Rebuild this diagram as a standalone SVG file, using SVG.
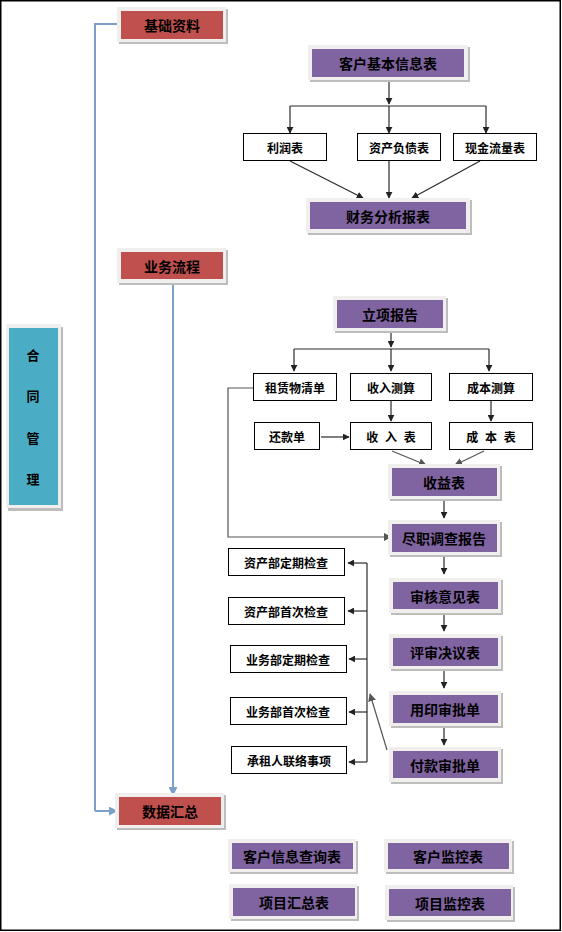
<svg xmlns="http://www.w3.org/2000/svg" width="562" height="932" viewBox="0 0 562 932">
<defs>
<style>
.t{font-family:"Noto Sans CJK SC","Liberation Sans",sans-serif;font-weight:bold;fill:#000;text-anchor:middle;dominant-baseline:central}
.big{font-size:14px}
.sm{font-size:12px}
.sp{letter-spacing:2px}
.fr{fill:#F1EEEE}
.sh{fill:#BDBDBD}
.red{fill:#C0504D}
.pur{fill:#8064A2}
.teal{fill:#4BACC6}
.wb{fill:#fff;stroke:#000;stroke-width:1}
.ln{fill:none;stroke:#2B2B2B;stroke-width:1.2}
.lg{fill:none;stroke:#555;stroke-width:1.2}
.bl{fill:none;stroke:#7BA0C8;stroke-width:2}
</style>
<marker id="ar" viewBox="0 0 10 10" refX="9" refY="5" markerWidth="7" markerHeight="7" markerUnits="userSpaceOnUse" orient="auto"><path d="M0,0L10,5L0,10z" fill="#222"/></marker>
<marker id="ag" viewBox="0 0 10 10" refX="9" refY="5" markerWidth="8" markerHeight="8" markerUnits="userSpaceOnUse" orient="auto"><path d="M0,0L10,5L0,10z" fill="#555"/></marker>
<marker id="ab" viewBox="0 0 10 10" refX="9" refY="5" markerWidth="9" markerHeight="9" markerUnits="userSpaceOnUse" orient="auto"><path d="M0,0L10,5L0,10z" fill="#7BA0C8"/></marker>
</defs>
<rect x="0.75" y="0.75" width="559.5" height="929.5" fill="#fff" stroke="#000" stroke-width="1.5"/>

<g id="connectors">
<path class="bl" d="M121,24H95V811" />
<path class="bl" d="M95,811H117" marker-end="url(#ab)"/>
<path class="bl" d="M173,280V795" marker-end="url(#ab)"/>
<path class="ln" d="M389,78V104" marker-end="url(#ar)"/>
<path class="ln" d="M290,106H486"/>
<path class="ln" d="M290,106V133" marker-end="url(#ar)"/>
<path class="ln" d="M389,106V133" marker-end="url(#ar)"/>
<path class="ln" d="M486,106V133" marker-end="url(#ar)"/>
<path class="ln" d="M290,161L363,198" marker-end="url(#ar)"/>
<path class="ln" d="M389,161V198" marker-end="url(#ar)"/>
<path class="ln" d="M480,161L412,198" marker-end="url(#ar)"/>
<path class="ln" d="M391,329V347" marker-end="url(#ar)"/>
<path class="ln" d="M294,349H489"/>
<path class="ln" d="M294,349V371" marker-end="url(#ar)"/>
<path class="ln" d="M391,349V371" marker-end="url(#ar)"/>
<path class="ln" d="M489,349V371" marker-end="url(#ar)"/>
<path class="ln" d="M391,401V421" marker-end="url(#ar)"/>
<path class="ln" d="M491,401V421" marker-end="url(#ar)"/>
<path class="ln" d="M321,437H349" marker-end="url(#ar)"/>
<path class="lg" d="M392,451L426,465" marker-end="url(#ag)"/>
<path class="lg" d="M484,451L455,465" marker-end="url(#ag)"/>
<path class="ln" d="M444,497V518" marker-end="url(#ar)"/>
<path class="lg" d="M253,388H228V537H391" marker-end="url(#ag)"/>
<path class="ln" d="M444,553V574" marker-end="url(#ar)"/>
<path class="ln" d="M444,610V631" marker-end="url(#ar)"/>
<path class="ln" d="M444,667V688" marker-end="url(#ar)"/>
<path class="ln" d="M444,724V745" marker-end="url(#ar)"/>
<path class="ln" d="M367,563V762"/>
<path class="ln" d="M367,563H348" marker-end="url(#ar)"/>
<path class="ln" d="M367,611H348" marker-end="url(#ar)"/>
<path class="ln" d="M367,659H349" marker-end="url(#ar)"/>
<path class="ln" d="M367,712H349" marker-end="url(#ar)"/>
<path class="ln" d="M367,762H349" marker-end="url(#ar)"/>
<path class="lg" d="M387,750L370,694" marker-end="url(#ag)"/>
</g>

<g id="n-hetong">
<rect class="sh" x="8" y="327" width="55" height="184"/>
<rect class="fr" x="6" y="324" width="55" height="184"/>
<rect class="teal" x="9" y="328" width="49" height="177"/>
<text class="t" style="font-size:13px" x="33" y="354">合</text>
<text class="t" style="font-size:13px" x="33" y="395">同</text>
<text class="t" style="font-size:13px" x="33" y="437">管</text>
<text class="t" style="font-size:13px" x="33" y="478">理</text>
</g>

<g id="n-jichu">
<rect class="sh" x="119" y="9" width="109" height="35"/>
<rect class="fr" x="117" y="7" width="109" height="35"/>
<rect class="red" x="121" y="11" width="102" height="28"/>
<text class="t big" x="172" y="25">基础资料</text>
</g>
<g id="n-yewu">
<rect class="sh" x="119" y="250" width="109" height="35"/>
<rect class="fr" x="117" y="248" width="109" height="35"/>
<rect class="red" x="121" y="252" width="102" height="27"/>
<text class="t big" x="172" y="266">业务流程</text>
</g>
<g id="n-shuju">
<rect class="sh" x="117" y="795" width="109" height="35"/>
<rect class="fr" x="115" y="793" width="109" height="35"/>
<rect class="red" x="119" y="797" width="102" height="28"/>
<text class="t big" x="170" y="811">数据汇总</text>
</g>

<g id="n-kehujiben">
<rect class="sh" x="310" y="47" width="160" height="35"/>
<rect class="fr" x="308" y="45" width="160" height="35"/>
<rect class="pur" x="312" y="49" width="152" height="28"/>
<text class="t big" x="388" y="63">客户基本信息表</text>
</g>
<g id="n-lirun"><rect class="wb" x="243.5" y="133.5" width="83" height="27"/><text class="t sm" x="285" y="147">利润表</text></g>
<g id="n-zichan"><rect class="wb" x="357.5" y="133.5" width="83" height="27"/><text class="t sm" x="399" y="147">资产负债表</text></g>
<g id="n-xianjin"><rect class="wb" x="453.5" y="133.5" width="83" height="27"/><text class="t sm" x="495" y="147">现金流量表</text></g>
<g id="n-caiwu">
<rect class="sh" x="308" y="200" width="164" height="35"/>
<rect class="fr" x="306" y="198" width="164" height="35"/>
<rect class="pur" x="310" y="202" width="156" height="27"/>
<text class="t big" x="388" y="216">财务分析报表</text>
</g>

<g id="n-lixiang">
<rect class="sh" x="335" y="298" width="113" height="35"/>
<rect class="fr" x="333" y="296" width="113" height="35"/>
<rect class="pur" x="337" y="300" width="106" height="28"/>
<text class="t big" x="390" y="314">立项报告</text>
</g>
<g id="n-zulin"><rect class="wb" x="253.5" y="373.5" width="83" height="27"/><text class="t sm" x="295" y="387">租赁物清单</text></g>
<g id="n-shouruce"><rect class="wb" x="350.5" y="373.5" width="81" height="27"/><text class="t sm" x="391" y="387">收入测算</text></g>
<g id="n-chengbence"><rect class="wb" x="449.5" y="373.5" width="83" height="27"/><text class="t sm" x="491" y="387">成本测算</text></g>
<g id="n-huankuan"><rect class="wb" x="254.5" y="422.5" width="65" height="27"/><text class="t sm" x="287" y="436">还款单</text></g>
<g id="n-shourubiao"><rect class="wb" x="350.5" y="422.5" width="81" height="27"/><text class="t sm sp" x="392" y="436" xml:space="preserve">收 入 表</text></g>
<g id="n-chengbenbiao"><rect class="wb" x="449.5" y="422.5" width="83" height="27"/><text class="t sm sp" x="492" y="436" xml:space="preserve">成 本 表</text></g>
<g id="n-shouyi">
<rect class="sh" x="390" y="466" width="112" height="35"/>
<rect class="fr" x="388" y="464" width="112" height="35"/>
<rect class="pur" x="392" y="468" width="105" height="28"/>
<text class="t big" x="444" y="482">收益表</text>
</g>
<g id="n-jinzhi">
<rect class="sh" x="390" y="522" width="112" height="35"/>
<rect class="fr" x="388" y="520" width="112" height="35"/>
<rect class="pur" x="392" y="524" width="105" height="28"/>
<text class="t big" x="444" y="538">尽职调查报告</text>
</g>
<g id="n-shenhe">
<rect class="sh" x="391" y="580" width="112" height="35"/>
<rect class="fr" x="389" y="578" width="112" height="35"/>
<rect class="pur" x="393" y="582" width="105" height="27"/>
<text class="t big" x="445" y="596">审核意见表</text>
</g>
<g id="n-pingshen">
<rect class="sh" x="391" y="636" width="112" height="35"/>
<rect class="fr" x="389" y="634" width="112" height="35"/>
<rect class="pur" x="393" y="638" width="105" height="28"/>
<text class="t big" x="445" y="652">评审决议表</text>
</g>
<g id="n-yongyin">
<rect class="sh" x="391" y="693" width="112" height="35"/>
<rect class="fr" x="389" y="691" width="112" height="35"/>
<rect class="pur" x="393" y="695" width="105" height="28"/>
<text class="t big" x="445" y="709">用印审批单</text>
</g>
<g id="n-fukuan">
<rect class="sh" x="391" y="749" width="112" height="35"/>
<rect class="fr" x="389" y="747" width="112" height="35"/>
<rect class="pur" x="393" y="751" width="105" height="27"/>
<text class="t big" x="445" y="765">付款审批单</text>
</g>

<g id="n-zcdq"><rect class="wb" x="228.5" y="548.5" width="116" height="27"/><text class="t sm" x="286" y="562">资产部定期检查</text></g>
<g id="n-zcsc"><rect class="wb" x="228.5" y="597.5" width="116" height="27"/><text class="t sm" x="286" y="611">资产部首次检查</text></g>
<g id="n-ywdq"><rect class="wb" x="230.5" y="645.5" width="116" height="27"/><text class="t sm" x="288" y="659">业务部定期检查</text></g>
<g id="n-ywsc"><rect class="wb" x="230.5" y="697.5" width="116" height="27"/><text class="t sm" x="288" y="711">业务部首次检查</text></g>
<g id="n-chengzu"><rect class="wb" x="231.5" y="746.5" width="115" height="27"/><text class="t sm" x="289" y="760">承租人联络事项</text></g>

<g id="n-khxx">
<rect class="sh" x="230" y="841" width="128" height="33"/>
<rect class="fr" x="228" y="839" width="128" height="33"/>
<rect class="pur" x="232" y="843" width="121" height="26"/>
<text class="t big" x="292" y="856">客户信息查询表</text>
</g>
<g id="n-khjk">
<rect class="sh" x="386" y="841" width="128" height="33"/>
<rect class="fr" x="384" y="839" width="128" height="33"/>
<rect class="pur" x="388" y="843" width="121" height="26"/>
<text class="t big" x="448" y="856">客户监控表</text>
</g>
<g id="n-xmhz">
<rect class="sh" x="231" y="886" width="128" height="35"/>
<rect class="fr" x="229" y="884" width="128" height="35"/>
<rect class="pur" x="233" y="888" width="122" height="28"/>
<text class="t big" x="294" y="902">项目汇总表</text>
</g>
<g id="n-xmjk">
<rect class="sh" x="387" y="887" width="128" height="35"/>
<rect class="fr" x="385" y="885" width="128" height="35"/>
<rect class="pur" x="389" y="889" width="122" height="27"/>
<text class="t big" x="450" y="903">项目监控表</text>
</g>
</svg>
